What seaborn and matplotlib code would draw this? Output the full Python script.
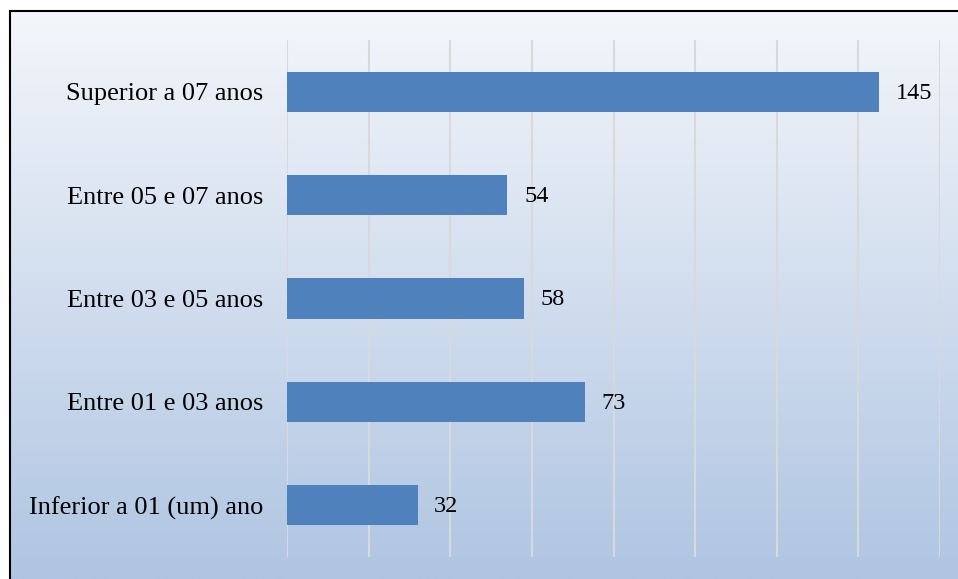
import matplotlib
matplotlib.use("Agg")
import matplotlib.pyplot as plt
import seaborn as sns
import numpy as np
import pandas as pd
from matplotlib.colors import LinearSegmentedColormap

categories = ["Superior a 07 anos", "Entre 05 e 07 anos", "Entre 03 e 05 anos",
              "Entre 01 e 03 anos", "Inferior a 01 (um) ano"]
values = [145, 54, 58, 73, 32]

df = pd.DataFrame({"cat": categories, "val": values})

sns.set_theme(style="white")
plt.rcParams['font.family'] = ['Liberation Serif', 'DejaVu Serif']

W, H = 958, 579
fig = plt.figure(figsize=(W / 100, H / 100), dpi=100)

# gradient background
bg = fig.add_axes([0, 0, 1, 1], zorder=0)
cmap = LinearSegmentedColormap.from_list("g", ["#f5f7fb", "#afc5e2"])
grad = np.linspace(0, 1, 256).reshape(-1, 1)
bg.imshow(grad, aspect="auto", cmap=cmap, extent=[0, 1, 0, 1], origin="upper")
bg.set_xlim(0, 1); bg.set_ylim(0, 1)
bg.axis("off")
bg.fill_between([0, 1], 1 - 10 / H, 1, color="white", zorder=2)
bg.fill_between([0, 9 / W], 0, 1, color="white", zorder=2)
bg.plot([9.5 / W, 9.5 / W], [0, 1 - 10.5 / H], color="black", lw=1.5, zorder=3)
bg.plot([9.5 / W, 1], [1 - 10.5 / H, 1 - 10.5 / H], color="black", lw=1.5, zorder=3)

ax = fig.add_axes([287 / W, (H - 557) / H, (940 - 287) / W, (557 - 40) / H], zorder=1)
ax.patch.set_alpha(0)
sns.barplot(data=df, x="val", y="cat", orient="h", color="#4f81bd", saturation=1,
            width=0.39, ax=ax, zorder=3, edgecolor="none", linewidth=0)
ax.set_xlim(0, 160)
ax.set_xticks(np.arange(0, 161, 20))
ax.xaxis.grid(True, color="#d9d9d9", lw=1.5, zorder=0)
ax.set_axisbelow(True)
for s in ax.spines.values():
    s.set_visible(False)
ax.set_xticklabels([])
ax.tick_params(axis="x", length=0)
ax.tick_params(axis="y", length=0, pad=17, labelsize=19, labelcolor="black")
ax.set_xlabel("")
ax.set_ylabel("")

for i, v in enumerate(values):
    ax.annotate(str(v), (v, i), xytext=(12, -1), textcoords="offset points",
                va="center", ha="left", fontsize=17.5, color="black")

fig.savefig("out.png", dpi=100)
